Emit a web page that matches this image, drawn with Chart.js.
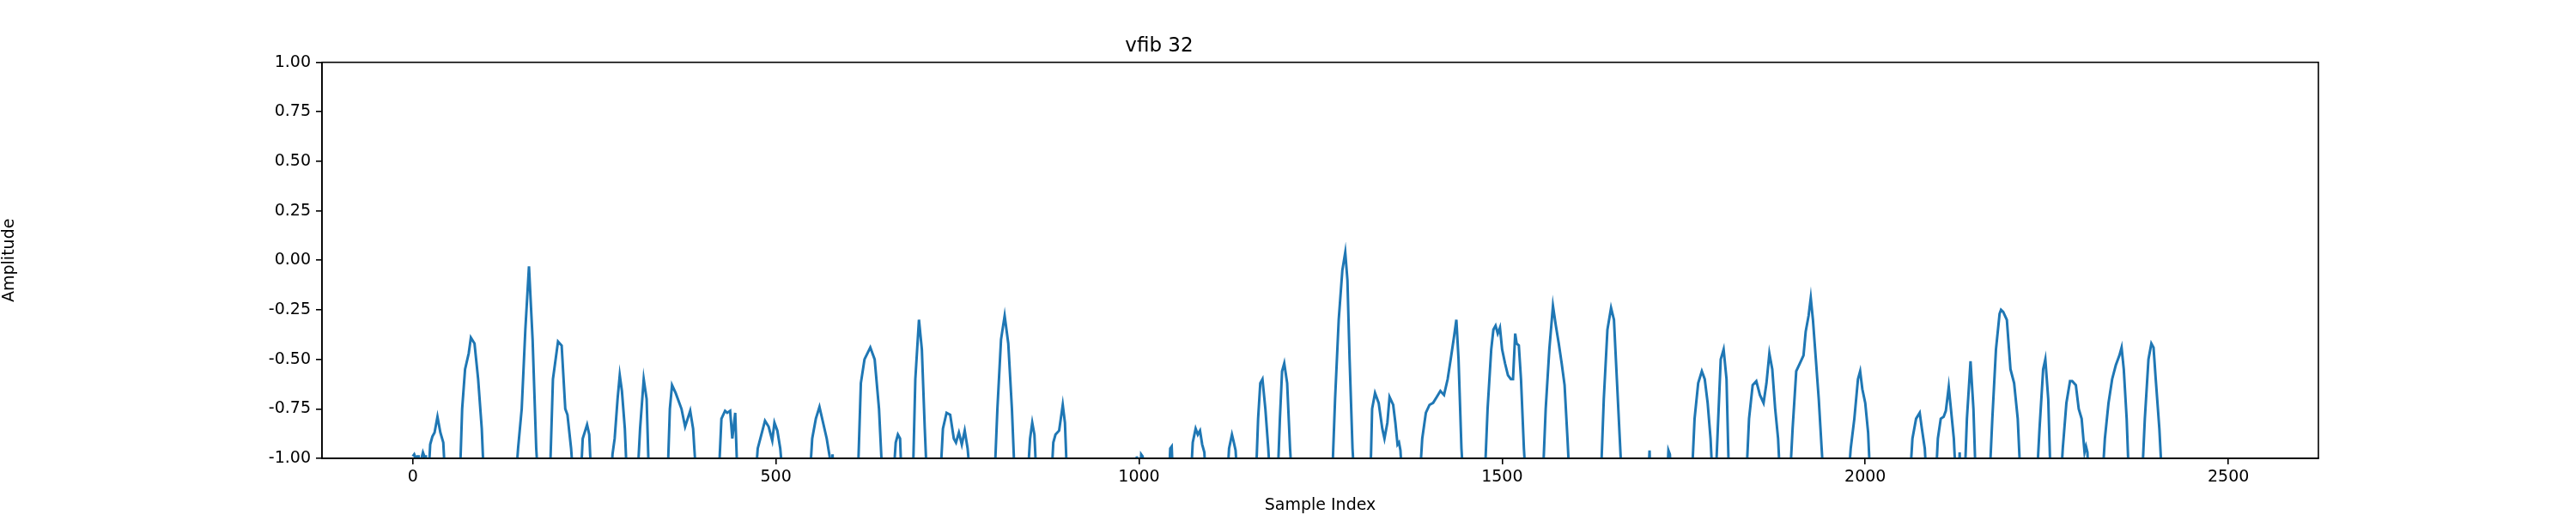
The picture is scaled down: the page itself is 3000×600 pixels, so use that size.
<!DOCTYPE html>
<html><head><meta charset="utf-8">
<script src="https://cdn.jsdelivr.net/npm/chart.js@4/dist/chart.umd.min.js"></script>
<style>html,body{margin:0;padding:0;background:#fff}#wrap{width:3000px;height:600px}</style>
</head><body><div id="wrap"><canvas id="c" width="3000" height="600"></canvas></div>
<script>
const title = "vfib 32";
const xLabel = "Sample Index";
const yLabel = "Amplitude";
const sampleIdx = [0,2,4,6,8,10,12,14,16,18,20,24,27,30,34,38,42,46,
 64,68,72,77,80,85,90,95,99,
 140,145,150,155,160,165,170,174,
 188,193,200,205,210,213,218,223,
 230,234,240,243,247,
 272,275,278,282,285,288,292,296,
 308,313,318,322,326,
 350,354,357,362,370,375,382,386,392,
 420,425,430,433,437,440,444,448,
 470,475,480,485,490,495,498,502,506,512,
 545,550,555,560,565,570,574,576,578,581,
 612,617,622,630,636,642,648,
 660,665,668,671,674,
 688,692,697,701,705,709,
 725,730,735,740,745,748,752,756,760,764,770,
 800,805,810,815,820,825,830,
 845,850,853,856,860,
 878,882,885,890,895,898,902,
 995,997,1000,1003,1005,1008,
 1040,1043,1045,1048,
 1070,1074,1078,1081,1084,1087,1090,1093,
 1120,1124,1128,1130,1133,1137,
 1160,1164,1167,1170,1174,1178,1182,
 1190,1194,1197,1200,1204,1208,1212,
 1265,1270,1275,1280,1284,1287,1290,1294,1298,
 1318,1321,1325,1330,1335,1338,1342,1345,1350,1353,1356,1358,1360,1364,
 1385,1390,1395,1400,1405,1410,1415,1420,1425,1430,1434,1437,1440,1444,1448,
 1475,1480,1485,1488,1491,1494,1497,1500,1504,1508,1512,1515,1518,1520,1523,1526,1530,1534,
 1555,1560,1565,1570,1574,1578,1582,1586,1590,1594,
 1635,1640,1645,1650,1654,1658,1662,1666,
 1700,1703,1705,1708,1726,1729,1731,1735,
 1760,1765,1770,1775,1779,1783,1787,1791,
 1793,1797,1801,1805,1809,1813,
 1835,1840,1845,1850,1855,1860,1864,1868,1872,1876,1880,1884,
 1895,1900,1905,1910,1915,1918,1922,1925,1928,1932,1936,1940,1944,
 1975,1980,1985,1990,1993,1996,2000,2004,2008,
 2060,2065,2070,2075,2078,2082,2086,
 2096,2100,2104,2108,2111,2115,2118,2122,2126,
 2128,2130,2132,2136,2140,2145,2149,2153,
 2170,2175,2180,2185,2187,2190,2195,2200,2205,2210,2215,
 2235,2240,2245,2248,2252,2256,
 2268,2272,2277,2282,2285,2290,2294,2298,2302,2304,2306,2308,
 2325,2330,2335,2340,2345,2350,2353,2356,2360,2364,
 2380,2385,2390,2394,2397,2400,2405,2410];
const amplitude = [-0.99,-0.98,-1.0,-0.99,-0.99,-1.2,-1.0,-0.97,-0.99,-0.99,-1.2,-0.93,-0.89,-0.87,-0.79,-0.87,-0.92,-1.2,
 -1.2,-0.75,-0.55,-0.47,-0.39,-0.42,-0.6,-0.85,-1.2,
 -1.2,-0.95,-0.75,-0.35,-0.03,-0.4,-0.95,-1.2,
 -1.2,-0.6,-0.41,-0.43,-0.75,-0.78,-0.95,-1.2,
 -1.2,-0.9,-0.83,-0.88,-1.2,
 -1.2,-0.98,-0.9,-0.7,-0.58,-0.66,-0.85,-1.2,
 -1.2,-0.85,-0.6,-0.7,-1.2,
 -1.2,-0.75,-0.63,-0.67,-0.75,-0.84,-0.76,-0.85,-1.2,
 -1.2,-0.8,-0.76,-0.77,-0.76,-0.9,-0.77,-1.2,
 -1.2,-0.95,-0.88,-0.81,-0.84,-0.91,-0.82,-0.86,-0.95,-1.2,
 -1.2,-0.9,-0.8,-0.74,-0.82,-0.9,-0.99,-1.2,-0.98,-1.2,
 -1.2,-0.62,-0.5,-0.44,-0.5,-0.75,-1.2,
 -1.2,-0.92,-0.88,-0.9,-1.2,
 -1.2,-0.6,-0.3,-0.45,-0.85,-1.2,
 -1.2,-0.85,-0.77,-0.78,-0.9,-0.92,-0.87,-0.93,-0.86,-0.95,-1.2,
 -1.2,-0.75,-0.4,-0.28,-0.42,-0.75,-1.2,
 -1.2,-0.9,-0.82,-0.88,-1.2,
 -1.2,-0.92,-0.88,-0.86,-0.73,-0.82,-1.2,
 -1.2,-0.99,-1.2,-0.98,-0.99,-1.2,
 -1.2,-0.95,-0.94,-1.2,
 -1.2,-0.92,-0.85,-0.88,-0.86,-0.93,-0.97,-1.2,
 -1.2,-0.95,-0.88,-0.91,-0.96,-1.2,
 -1.2,-0.8,-0.62,-0.6,-0.75,-0.95,-1.2,
 -1.2,-0.8,-0.56,-0.52,-0.62,-0.95,-1.2,
 -1.2,-0.7,-0.3,-0.05,0.04,-0.1,-0.5,-0.95,-1.2,
 -1.2,-0.75,-0.67,-0.72,-0.85,-0.9,-0.82,-0.69,-0.73,-0.82,-0.93,-0.92,-0.96,-1.2,
 -1.2,-0.9,-0.77,-0.73,-0.72,-0.69,-0.66,-0.68,-0.6,-0.48,-0.38,-0.3,-0.5,-0.95,-1.2,
 -1.2,-0.75,-0.45,-0.35,-0.33,-0.37,-0.34,-0.45,-0.52,-0.58,-0.6,-0.6,-0.37,-0.42,-0.43,-0.6,-0.95,-1.2,
 -1.2,-0.75,-0.45,-0.23,-0.33,-0.42,-0.52,-0.63,-0.9,-1.2,
 -1.2,-0.7,-0.35,-0.24,-0.3,-0.6,-0.9,-1.2,
 -1.2,-0.96,-1.2,-1.2,-1.2,-0.96,-0.98,-1.2,
 -1.2,-0.8,-0.62,-0.56,-0.6,-0.72,-0.9,-1.2,
 -1.2,-0.85,-0.5,-0.45,-0.6,-1.2,
 -1.2,-0.8,-0.63,-0.61,-0.68,-0.72,-0.62,-0.47,-0.55,-0.75,-0.9,-1.2,
 -1.2,-0.85,-0.56,-0.52,-0.48,-0.36,-0.28,-0.19,-0.3,-0.5,-0.7,-0.95,-1.2,
 -1.2,-0.95,-0.8,-0.6,-0.56,-0.65,-0.72,-0.87,-1.2,
 -1.2,-0.9,-0.8,-0.77,-0.85,-0.95,-1.2,
 -1.2,-0.9,-0.8,-0.79,-0.76,-0.64,-0.75,-0.9,-1.2,
 -1.2,-0.97,-1.2,-1.2,-0.8,-0.51,-0.75,-1.2,
 -1.2,-0.8,-0.45,-0.27,-0.25,-0.26,-0.3,-0.55,-0.62,-0.8,-1.2,
 -1.2,-0.85,-0.55,-0.5,-0.7,-1.2,
 -1.2,-0.95,-0.72,-0.61,-0.61,-0.63,-0.75,-0.8,-0.97,-0.94,-0.97,-1.2,
 -1.2,-0.9,-0.72,-0.6,-0.53,-0.48,-0.44,-0.55,-0.8,-1.2,
 -1.2,-0.8,-0.5,-0.42,-0.44,-0.6,-0.85,-1.2];
const xTicks = [0,500,1000,1500,2000,2500];
const yTicks = [-1.00,-0.75,-0.50,-0.25,0.00,0.25,0.50,0.75,1.00];

const pts = sampleIdx.map((x,i)=>({x:x,y:amplitude[i]}));
const frame = {id:'frame',afterDraw(ch){const a=ch.chartArea,c=ch.ctx;c.save();c.strokeStyle='#000';c.lineWidth=1.6;c.strokeRect(a.left,a.top,a.right-a.left,a.bottom-a.top);c.restore();}};
const F = "'DejaVu Sans', sans-serif";
new Chart(document.getElementById('c'),{
 type:'line',
 data:{datasets:[{data:pts,borderColor:'#1f77b4',borderWidth:3,pointRadius:0,tension:0,fill:false}]},
 options:{responsive:false,animation:false,
  layout:{padding:{right:300,left:0,top:0,bottom:0}},
  plugins:{legend:{display:false},tooltip:{enabled:false},
   title:{display:true,text:title,color:'#000',font:{family:F,size:23,weight:'normal'},padding:{top:40,bottom:5}}},
  scales:{
   x:{type:'linear',min:-125,max:2624,
     afterBuildTicks(s){s.ticks=xTicks.map(v=>({value:v}));},
     afterFit(s){s.height=66;},
     ticks:{color:'#000',font:{family:F,size:19},padding:4,maxRotation:0,callback:v=>String(v)},
     grid:{drawOnChartArea:false,tickLength:7,color:'#000',lineWidth:1.6},
     border:{display:true,color:'#000',width:1.6},
     title:{display:true,text:xLabel,color:'#000',font:{family:F,size:19},padding:{top:2,bottom:0}}},
   y:{min:-1,max:1,
     afterBuildTicks(s){s.ticks=yTicks.map(v=>({value:v}));},
     afterFit(s){s.width=375;},
     ticks:{color:'#000',font:{family:F,size:19},padding:6,callback:v=>v.toFixed(2)},
     grid:{drawOnChartArea:false,tickLength:7,color:'#000',lineWidth:1.6},
     border:{display:true,color:'#000',width:1.6},
     title:{display:true,text:yLabel,color:'#000',font:{family:F,size:19},padding:{top:0,bottom:0}}}
  }},
 plugins:[frame]
});
</script></body></html>
